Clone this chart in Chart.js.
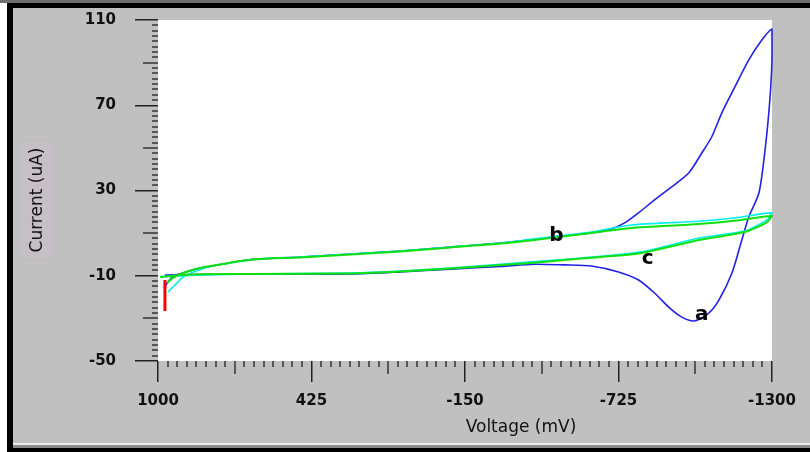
<!DOCTYPE html>
<html>
<head>
<meta charset="utf-8">
<title>Voltammogram</title>
<script src="https://cdn.jsdelivr.net/npm/chart.js@4.4.1/dist/chart.umd.min.js"></script>
<style>
    html, body { margin: 0; padding: 0; background: #c0c0c0; }
    #wrap { width: 810px; height: 452px; }
</style>
</head>
<body>
<div id="wrap"><canvas id="cvChart" width="810" height="452"></canvas></div>
<script>
// axis ranges and tick labels
var voltMin = -1300, voltMax = 1000;
var currMin = -50, currMax = 110;
var voltTicks = [1000, 425, -150, -725, -1300];
var currTicks = [110, 70, 30, -10, -50];

// curve a (blue): forward branch from the left, then back along the bottom
var aVolt = [977, 962, 940, 906, 868, 842, 797, 756, 692, 617, 466, 278, 91, -97, -285, -409, -511, -623, -699,
    -748, -800, -860, -924, -988, -1037, -1074, -1112, -1161, -1213, -1262, -1300,
    -1300, -1300, -1292, -1274, -1251, -1213, -1187, -1150, -1101, -1063, -1010, -962, -913, -860, -800, -725,
    -623, -522, -409, -285, -97, 91, 278, 654, 842, 974];
var aCurr = [-15.8, -12.8, -10.0, -8.7, -7.2, -6.4, -5.4, -4.5, -3.1, -2.1, -1.2, 0.2, 1.6, 3.5, 5.4, 7.0, 8.7, 10.1, 12.0,
    14.8, 19.5, 25.6, 31.7, 38.2, 47.6, 55.1, 66.4, 78.6, 91.3, 100.6, 105.8,
    101.1, 91.0, 72.5, 49.0, 28.8, 17.6, 6.8, -8.7, -21.4, -27.5, -31.2, -29.4, -24.7, -18.1, -12.0, -8.2,
    -5.4, -4.9, -4.6, -5.6, -6.9, -8.2, -9.2, -9.2, -9.4, -9.7];

// curve b (cyan)
var bVolt = [962, 944, 906, 868, 797, 729, 617, 466, 278, 91, -97, -285, -409, -623, -774, -1026, -1187, -1300,
    -1285, -1262, -1198, -1026, -811, -586, -398, -97, 91, 278, 654, 775, 992];
var bCurr = [-17.6, -15.3, -10.6, -8.2, -5.4, -4.0, -2.1, -1.2, 0.2, 1.6, 3.5, 5.4, 7.3, 10.5, 13.8, 15.6, 17.6, 19.5,
    16.6, 14.8, 11.0, 7.7, 1.2, -1.7, -3.5, -6.4, -7.8, -8.7, -9.2, -9.4, -10.4];

// curve c (green)
var cVolt = [966, 944, 906, 842, 756, 692, 617, 466, 278, 91, -97, -285, -409, -623, -774, -1026, -1187, -1300,
    -1285, -1262, -1198, -1026, -811, -586, -398, -97, 91, 278, 654, 880, 992];
var cCurr = [-13.4, -11.0, -8.7, -6.4, -4.5, -3.1, -2.1, -1.4, 0.0, 1.4, 3.3, 5.1, 6.8, 10.1, 12.4, 14.3, 16.2, 18.0,
    15.6, 13.8, 10.5, 6.8, 0.7, -1.9, -4.0, -6.6, -8.0, -8.9, -9.2, -9.4, -10.6];

// red start marker
var markVolt = [974, 974];
var markCurr = [-12.0, -26.5];

// curve labels
var labelText = ['a', 'b', 'c'];
var labelVolt = [-1037, -492, -834];
var labelCurr = [-28.4, 8.7, -2.1];

/**
 * Builds and draws the cyclic voltammogram
 * */
class VoltammogramChart {
    constructor(canvasId) {
        this.ctx = document.getElementById(canvasId).getContext('2d');
        this.chart = null;
        this.drawChart();
    }

    // pair two arrays into {x, y} points
    toPoints(volt, curr) {
        var pts = [];
        for (var i = 0; i < volt.length; i++) {
            pts.push({ x: volt[i], y: curr[i] });
        }
        return pts;
    }

    makeSet(volt, curr, color, width, order) {
        return {
            data: this.toPoints(volt, curr),
            borderColor: color,
            borderWidth: width,
            showLine: true,
            pointRadius: 0,
            tension: 0.25,
            clip: false,
            order: order
        };
    }

    drawChart() {
        var me = this;
        var xFont = { family: '"DejaVu Sans", sans-serif', size: 15, weight: 'bold' };
        // tiny line height so the top label does not push the plot area down
        var yFont = { family: '"DejaVu Sans", sans-serif', size: 15, weight: 'bold', lineHeight: 0.1 };

        // gray frame, white plot area, black border
        var framePlugin = {
            id: 'frame',
            beforeDraw: function (chart) {
                var c = chart.ctx, a = chart.chartArea;
                c.save();
                c.fillStyle = '#c0c0c0';
                c.fillRect(0, 0, chart.width, chart.height);
                c.fillStyle = '#ffffff';
                c.fillRect(a.left, a.top, a.right - a.left, a.bottom - a.top);
                // y title box
                c.fillStyle = '#c6bfc6';
                c.fillRect(23, 143, 30, 114);
                c.restore();
            },
            afterDraw: function (chart) {
                var c = chart.ctx;
                c.save();
                c.fillStyle = '#ffffff';
                c.fillRect(0, 0, 7, chart.height);
                c.fillStyle = '#707070';
                c.fillRect(0, 0, chart.width, 3);
                c.fillStyle = '#000000';
                c.fillRect(7, 3, chart.width - 7, 5);
                c.fillRect(7, 3, 6, chart.height - 3);
                c.fillStyle = '#ececec';
                c.fillRect(13, 443, chart.width - 13, 2);
                c.fillStyle = '#8c8c8c';
                c.fillRect(13, 445, chart.width - 13, 3);
                c.fillStyle = '#000000';
                c.fillRect(7, 448, chart.width - 7, 4);

                // axis titles
                c.fillStyle = '#111111';
                c.font = '17px "DejaVu Sans", sans-serif';
                c.textAlign = 'center';
                c.textBaseline = 'middle';
                c.fillText('Voltage (mV)', 521, 428);
                c.translate(38, 200);
                c.rotate(-Math.PI / 2);
                c.fillText('Current (uA)', 0, 0);
                c.restore();
            }
        };

        // medium and small ticks between the library's major ticks
        var minorTickPlugin = {
            id: 'minorTicks',
            afterDraw: function (chart) {
                var c = chart.ctx, a = chart.chartArea;
                var sx = chart.scales.x, sy = chart.scales.y;
                var xStep = (voltMax - voltMin) / 64, yStep = (currMax - currMin) / 64;
                c.save();
                c.strokeStyle = '#333333';
                c.lineWidth = 1.5;
                c.beginPath();
                for (var i = 1; i < 64; i++) {
                    if (i % 16 == 0) continue;
                    var px = Math.round(sx.getPixelForValue(voltMax - i * xStep));
                    var lx = (i % 8 == 0) ? 13 : 6;
                    c.moveTo(px, a.bottom);
                    c.lineTo(px, a.bottom + lx);
                    var py = Math.round(sy.getPixelForValue(currMin + i * yStep));
                    var ly = (i % 8 == 0) ? 15 : 6;
                    c.moveTo(a.left - ly, py);
                    c.lineTo(a.left, py);
                }
                c.stroke();
                c.restore();
            }
        };

        // a, b, c labels next to the curves
        var labelPlugin = {
            id: 'curveLabels',
            afterDatasetsDraw: function (chart) {
                var c = chart.ctx;
                c.save();
                c.fillStyle = '#000000';
                c.font = 'bold 20px "DejaVu Sans", sans-serif';
                c.textAlign = 'center';
                c.textBaseline = 'middle';
                $each(labelText, function (i, t) {
                    c.fillText(t, chart.scales.x.getPixelForValue(labelVolt[i]), chart.scales.y.getPixelForValue(labelCurr[i]));
                });
                c.restore();
            }
        };

        var data = {
            datasets: [
                me.makeSet(markVolt, markCurr, '#ff0000', 3, 0),
                me.makeSet(cVolt, cCurr, '#10e010', 2, 1),
                me.makeSet(bVolt, bCurr, '#00eef0', 1.6, 2),
                me.makeSet(aVolt, aCurr, '#2222e6', 1.6, 3)
            ]
        };
        data.datasets[0].tension = 0;

        var plainLabel = function (v) { return String(v); };

        var options = {
            responsive: false,
            animation: false,
            layout: { padding: { top: 20, right: 38, left: 0, bottom: 0 } },
            plugins: { legend: { display: false }, tooltip: { enabled: false } },
            scales: {
                x: {
                    type: 'linear',
                    reverse: true,
                    min: voltMin,
                    max: voltMax,
                    afterBuildTicks: function (scale) {
                        scale.ticks = voltTicks.map(function (v) { return { value: v }; });
                    },
                    afterFit: function (scale) { scale.height = 91; },
                    ticks: { autoSkip: false, maxRotation: 0, padding: 10, color: '#111111', font: xFont, callback: plainLabel },
                    grid: { drawOnChartArea: false, drawTicks: true, tickLength: 21, color: '#222222', lineWidth: 1.5 },
                    border: { display: false }
                },
                y: {
                    type: 'linear',
                    min: currMin,
                    max: currMax,
                    afterBuildTicks: function (scale) {
                        scale.ticks = currTicks.map(function (v) { return { value: v }; });
                    },
                    afterFit: function (scale) { scale.width = 158; },
                    ticks: { autoSkip: false, padding: 19, color: '#111111', font: yFont, callback: plainLabel },
                    grid: { drawOnChartArea: false, drawTicks: true, tickLength: 23, color: '#222222', lineWidth: 1.5 },
                    border: { display: false }
                }
            }
        };

        me.chart = new Chart(me.ctx, {
            type: 'scatter',
            data: data,
            options: options,
            plugins: [framePlugin, minorTickPlugin, labelPlugin]
        });
    }
}

// small helper in place of $.each
function $each(arr, fn) {
    for (var i = 0; i < arr.length; i++) fn(i, arr[i]);
}

var oChart = new VoltammogramChart('cvChart');
</script>
</body>
</html>
